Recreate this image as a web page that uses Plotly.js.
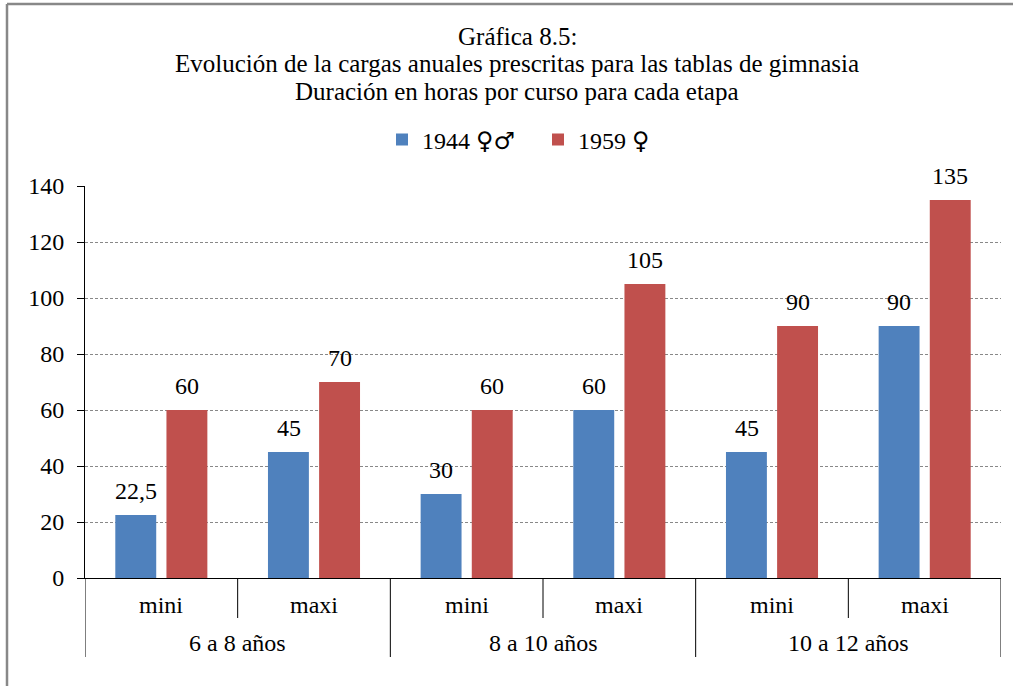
<!DOCTYPE html>
<html>
<head>
<meta charset="utf-8">
<script src="https://cdn.plot.ly/plotly-3.0.1.min.js"></script>
<style>html,body{margin:0;padding:0;background:#fff}#chart{width:1013px;height:686px}</style>
</head>
<body>
<div id="chart"></div>
<script>
var subcats = ["mini", "maxi", "mini", "maxi", "mini", "maxi"];
var groups = ["6 a 8 años", "8 a 10 años", "10 a 12 años"];
var s1944 = [22.5, 45, 30, 60, 45, 90];
var s1959 = [60, 70, 60, 105, 90, 135];
var SYM = "<span style='font-family:DejaVu Sans'>";
var seriesNames = ["1944 " + SYM + "♀♂</span>", "1959 " + SYM + "♀</span>"];
var yTicks = [0, 20, 40, 60, 80, 100, 120, 140];
var titleLines = ["Gráfica 8.5:", "Evolución de la cargas anuales prescritas para las tablas de gimnasia", "Duración en horas por curso para cada etapa"];

var FONT = "Liberation Serif, Times New Roman, serif";
var FS = 24;
var xs = subcats.map(function(_, i){ return i; });
function fmt(v){ return String(v).replace('.', ','); }

var traces = [
  {type:'bar', x:xs, y:s1944, name:seriesNames[0], marker:{color:'#4F81BD'}, hoverinfo:'y'},
  {type:'bar', x:xs, y:s1959, name:seriesNames[1], marker:{color:'#C0504D'}, hoverinfo:'y'}
];

var H = 392; // plot height in px
function py(px){ return -px / H; }

var annotations = [];
// data labels above bars
[[s1944, -25.5], [s1959, 25.5]].forEach(function(pair){
  pair[0].forEach(function(v, i){
    annotations.push({xref:'x', yref:'y', x:i, y:v, xshift:pair[1], yshift:24, text:fmt(v),
      showarrow:false, yanchor:'middle', font:{family:FONT, size:FS, color:'#000'}});
  });
});
subcats.forEach(function(s, i){
  annotations.push({xref:'x', yref:'paper', x:i, y:py(27), text:s, showarrow:false,
    yanchor:'middle', font:{family:FONT, size:FS, color:'#000'}});
});
groups.forEach(function(g, j){
  annotations.push({xref:'x', yref:'paper', x:2*j+0.5, y:py(65), text:g, showarrow:false,
    yanchor:'middle', font:{family:FONT, size:FS, color:'#000'}});
});
var titleY = [36, 64, 92];
titleLines.forEach(function(t, k){
  annotations.push({xref:'paper', yref:'paper', x:(517-85)/916, y:(578-titleY[k])/H, text:t,
    showarrow:false, xanchor:'center', yanchor:'middle', font:{family:FONT, size:25, color:'#000'}});
});

var shapes = [];
for (var i = 0; i < subcats.length; i += 2) {
  shapes.push({type:'line', xref:'x', yref:'paper', x0:i+0.5, x1:i+0.5, y0:0, y1:py(40), line:{color:'#000', width:1}});
}
for (var k = 0; k <= groups.length; k++) {
  shapes.push({type:'line', xref:'x', yref:'paper', x0:2*k-0.5, x1:2*k-0.5, y0:0, y1:py(79), line:{color:'#000', width:1}});
}
// outer frame (top and left edges of the chart area)
shapes.push({type:'line', xref:'paper', yref:'paper', x0:(7-85)/916, x1:1.2, y0:(578-4)/H, y1:(578-4)/H, line:{color:'#888', width:2.5}});
shapes.push({type:'line', xref:'paper', yref:'paper', x0:(7-85)/916, x1:(7-85)/916, y0:(578-4)/H, y1:-0.5, line:{color:'#888', width:2.5}});

var layout = {
  width:1013, height:686,
  margin:{l:85, r:12, t:186, b:108},
  paper_bgcolor:'#fff', plot_bgcolor:'#fff',
  font:{family:FONT, size:FS, color:'#000'},
  barmode:'group', bargap:0.33, bargroupgap:0.2,
  showlegend:true,
  legend:{orientation:'h', x:(382-85)/916, xanchor:'left', y:(578-140)/H, yanchor:'middle',
    font:{family:FONT, size:FS, color:'#000'}, itemwidth:30, traceorder:'normal',
    entrywidth:111, entrywidthmode:'pixels'},
  xaxis:{range:[-0.5, 5.5], showticklabels:false, ticks:'', showgrid:false, zeroline:false,
    showline:true, linecolor:'#000', linewidth:1, fixedrange:true},
  yaxis:{range:[0, 140], tickvals:yTicks, ticks:'outside', ticklen:7, tickcolor:'#000',
    showline:true, linecolor:'#000', linewidth:1, showgrid:true, gridcolor:'#888', griddash:'3px,2px',
    gridwidth:1, zeroline:false, ticklabelstandoff:8, tickfont:{family:FONT, size:FS, color:'#000'}},
  annotations:annotations, shapes:shapes
};
Plotly.newPlot('chart', traces, layout, {displayModeBar:false, staticPlot:true});
</script>
</body>
</html>
